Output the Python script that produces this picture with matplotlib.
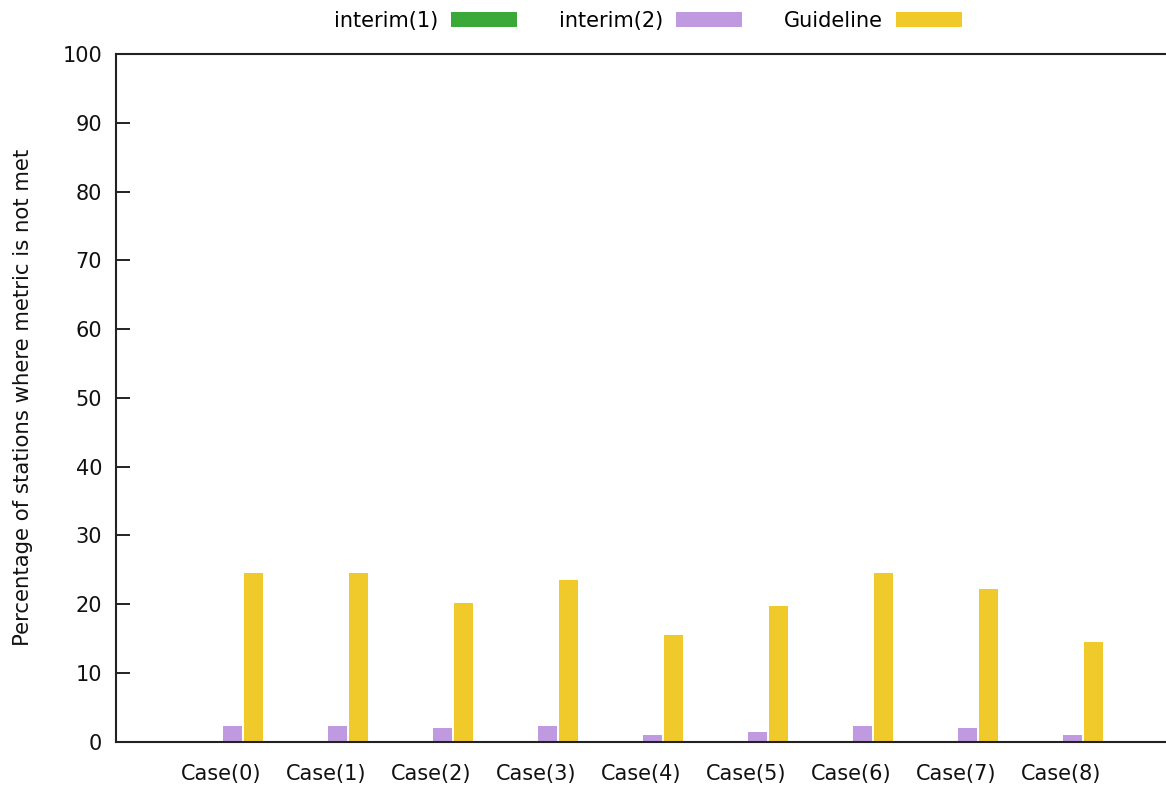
import matplotlib
matplotlib.use("Agg")
import matplotlib.pyplot as plt
import numpy as np

categories = ["Case(0)", "Case(1)", "Case(2)", "Case(3)", "Case(4)",
              "Case(5)", "Case(6)", "Case(7)", "Case(8)"]
series_names = ["interim(1)", "interim(2)", "Guideline"]
interim1 = [0, 0, 0, 0, 0, 0, 0, 0, 0]
interim2 = [2.3, 2.3, 2.0, 2.3, 0.95, 1.45, 2.3, 2.0, 0.95]
guideline = [24.6, 24.6, 20.2, 23.5, 15.5, 19.7, 24.6, 22.2, 14.5]
y_ticks = [0, 10, 20, 30, 40, 50, 60, 70, 80, 90, 100]
y_label = "Percentage of stations where metric is not met"

colors = ["#3ba83a", "#c09ae0", "#f0ca2a"]

plt.rcParams['font.family'] = ['DejaVu Sans']
fs = 15

fig = plt.figure(figsize=(11.66, 7.93), dpi=100)
ax = fig.add_axes([116 / 1166, (793 - 741.7) / 793, 1 - 116 / 1166, (741.7 - 54) / 793])

x = np.arange(len(categories))
offsets = [-0.09, 0.11, 0.31]
width = 0.18
for vals, off, col, name in zip([interim1, interim2, guideline], offsets, colors, series_names):
    ax.bar(x + off, vals, width=width, color=col, edgecolor='none', label=name)

ax.set_xlim(-1, 9)
ax.set_ylim(0, 100)
ax.set_yticks(y_ticks)
ax.set_xticks(x)
ax.set_xticklabels(categories)
ax.tick_params(axis='y', direction='in', length=10, width=1.4, pad=10,
               labelsize=fs, colors='#222222', labelcolor='#111111')
ax.tick_params(axis='x', length=0, pad=16, labelsize=fs, labelcolor='#111111')
for s in ['left', 'bottom', 'top']:
    ax.spines[s].set_linewidth(1.5)
    ax.spines[s].set_color('#222222')
ax.spines['right'].set_visible(False)
ax.set_ylabel(y_label, fontsize=15.3, color='#111111', labelpad=21)

leg = ax.legend(loc='center', bbox_to_anchor=(648 / 1166, 1 - 21 / 793),
                bbox_transform=fig.transFigure, ncol=3, frameon=False,
                markerfirst=False, fontsize=fs, handlelength=3.2,
                handleheight=0.75, handletextpad=0.6, columnspacing=2.0,
                borderaxespad=0, borderpad=0)

fig.savefig("out.png", dpi=100)
